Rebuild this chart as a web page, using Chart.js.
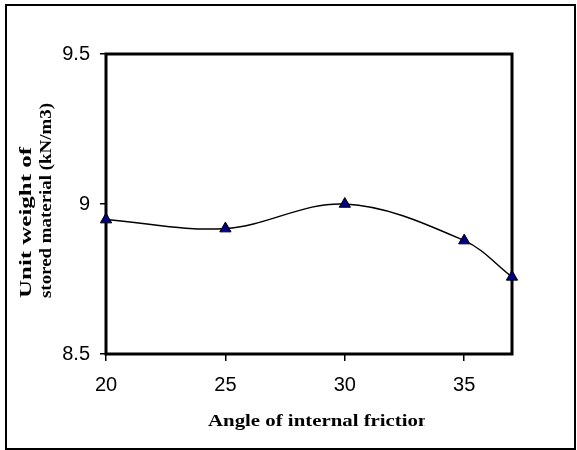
<!DOCTYPE html>
<html><head><meta charset="utf-8">
<script src="https://cdn.jsdelivr.net/npm/chart.js@4"></script>
<style>html,body{margin:0;padding:0;background:#fff}canvas{display:block}</style>
</head><body>
<canvas id="c" width="577" height="450"></canvas>
<script>
const angles = [20, 25, 30, 35, 37];
const unitWeight = [8.948, 8.918, 9.0, 8.878, 8.757];
const xTicks = [20, 25, 30, 35];
const yTicks = [8.5, 9, 9.5];
const xTitle = 'Angle of internal friction';
const xTitleVisible = 'Angle of internal frictio';
const yTitle = ['Unit weight of', 'stored material (kN/m3)'];

const titleFont = 'bold 17px "Liberation Serif", "Times New Roman", serif';

function stretchText(ctx, text, measureText, x, y, targetW, rot) {
  const w = ctx.measureText(measureText).width;
  ctx.save();
  ctx.translate(x, y);
  if (rot) ctx.rotate(rot);
  ctx.scale(targetW / w, 1);
  ctx.fillText(text, 0, 0);
  ctx.restore();
}

const decor = {
  id: 'decor',
  beforeDatasetsDraw(chart) {
    const ctx = chart.ctx, a = chart.chartArea;
    ctx.save();
    ctx.strokeStyle = '#000';
    ctx.lineWidth = 3;
    ctx.strokeRect(a.left, a.top, a.right - a.left, a.bottom - a.top);
    ctx.restore();
  },
  afterDraw(chart) {
    const ctx = chart.ctx;
    ctx.save();
    ctx.strokeStyle = '#000';
    ctx.lineWidth = 2;
    ctx.strokeRect(6, 5, 569, 444);
    ctx.fillStyle = '#000';
    ctx.font = titleFont;
    ctx.textAlign = 'left';
    ctx.textBaseline = 'alphabetic';
    // y title (two lines, rotated, starting from bottom)
    stretchText(ctx, yTitle[0], yTitle[0], 31, 298, 151, -Math.PI / 2);
    stretchText(ctx, yTitle[1], yTitle[1], 51, 298, 195, -Math.PI / 2);
    // x title (clipped at the right as in the reference)
    ctx.save();
    ctx.beginPath();
    ctx.rect(0, 0, 425, 450);
    ctx.clip();
    stretchText(ctx, xTitle, xTitleVisible, 208, 426, 210, 0);
    ctx.restore();
    ctx.restore();
  }
};

const tickFont = { family: '"Liberation Sans", Arial, sans-serif', size: 20 };

new Chart(document.getElementById('c'), {
  type: 'line',
  data: {
    datasets: [{
      data: angles.map((x, i) => ({ x: x, y: unitWeight[i] })),
      borderColor: '#000',
      borderWidth: 1.5,
      tension: 0.35,
      fill: false,
      clip: false,
      pointStyle: 'triangle',
      pointRadius: 6.5,
      pointHoverRadius: 6.5,
      pointBackgroundColor: '#000080',
      pointBorderColor: '#000',
      pointBorderWidth: 1
    }]
  },
  options: {
    responsive: false,
    animation: false,
    devicePixelRatio: 1,
    layout: { padding: { top: 54, right: 65, left: 0, bottom: 0 } },
    plugins: { legend: { display: false }, tooltip: { enabled: false } },
    scales: {
      x: {
        type: 'linear', min: 20, max: 37,
        afterBuildTicks: s => { s.ticks = xTicks.map(v => ({ value: v })); },
        afterFit: s => { s.height = 96; },
        grid: { drawOnChartArea: false, drawTicks: true, tickLength: 7, color: '#000', lineWidth: 1.5 },
        border: { display: false },
        ticks: { color: '#000', font: tickFont, padding: 12, maxRotation: 0, autoSkip: false }
      },
      y: {
        type: 'linear', min: 8.5, max: 9.5,
        afterBuildTicks: s => { s.ticks = yTicks.map(v => ({ value: v })); },
        afterFit: s => { s.width = 106; },
        grid: { drawOnChartArea: false, drawTicks: true, tickLength: 6, color: '#000', lineWidth: 1.5 },
        border: { display: false },
        ticks: { color: '#000', font: tickFont, padding: 10, autoSkip: false, callback: v => String(v) }
      }
    }
  },
  plugins: [decor]
});
</script>
</body></html>
